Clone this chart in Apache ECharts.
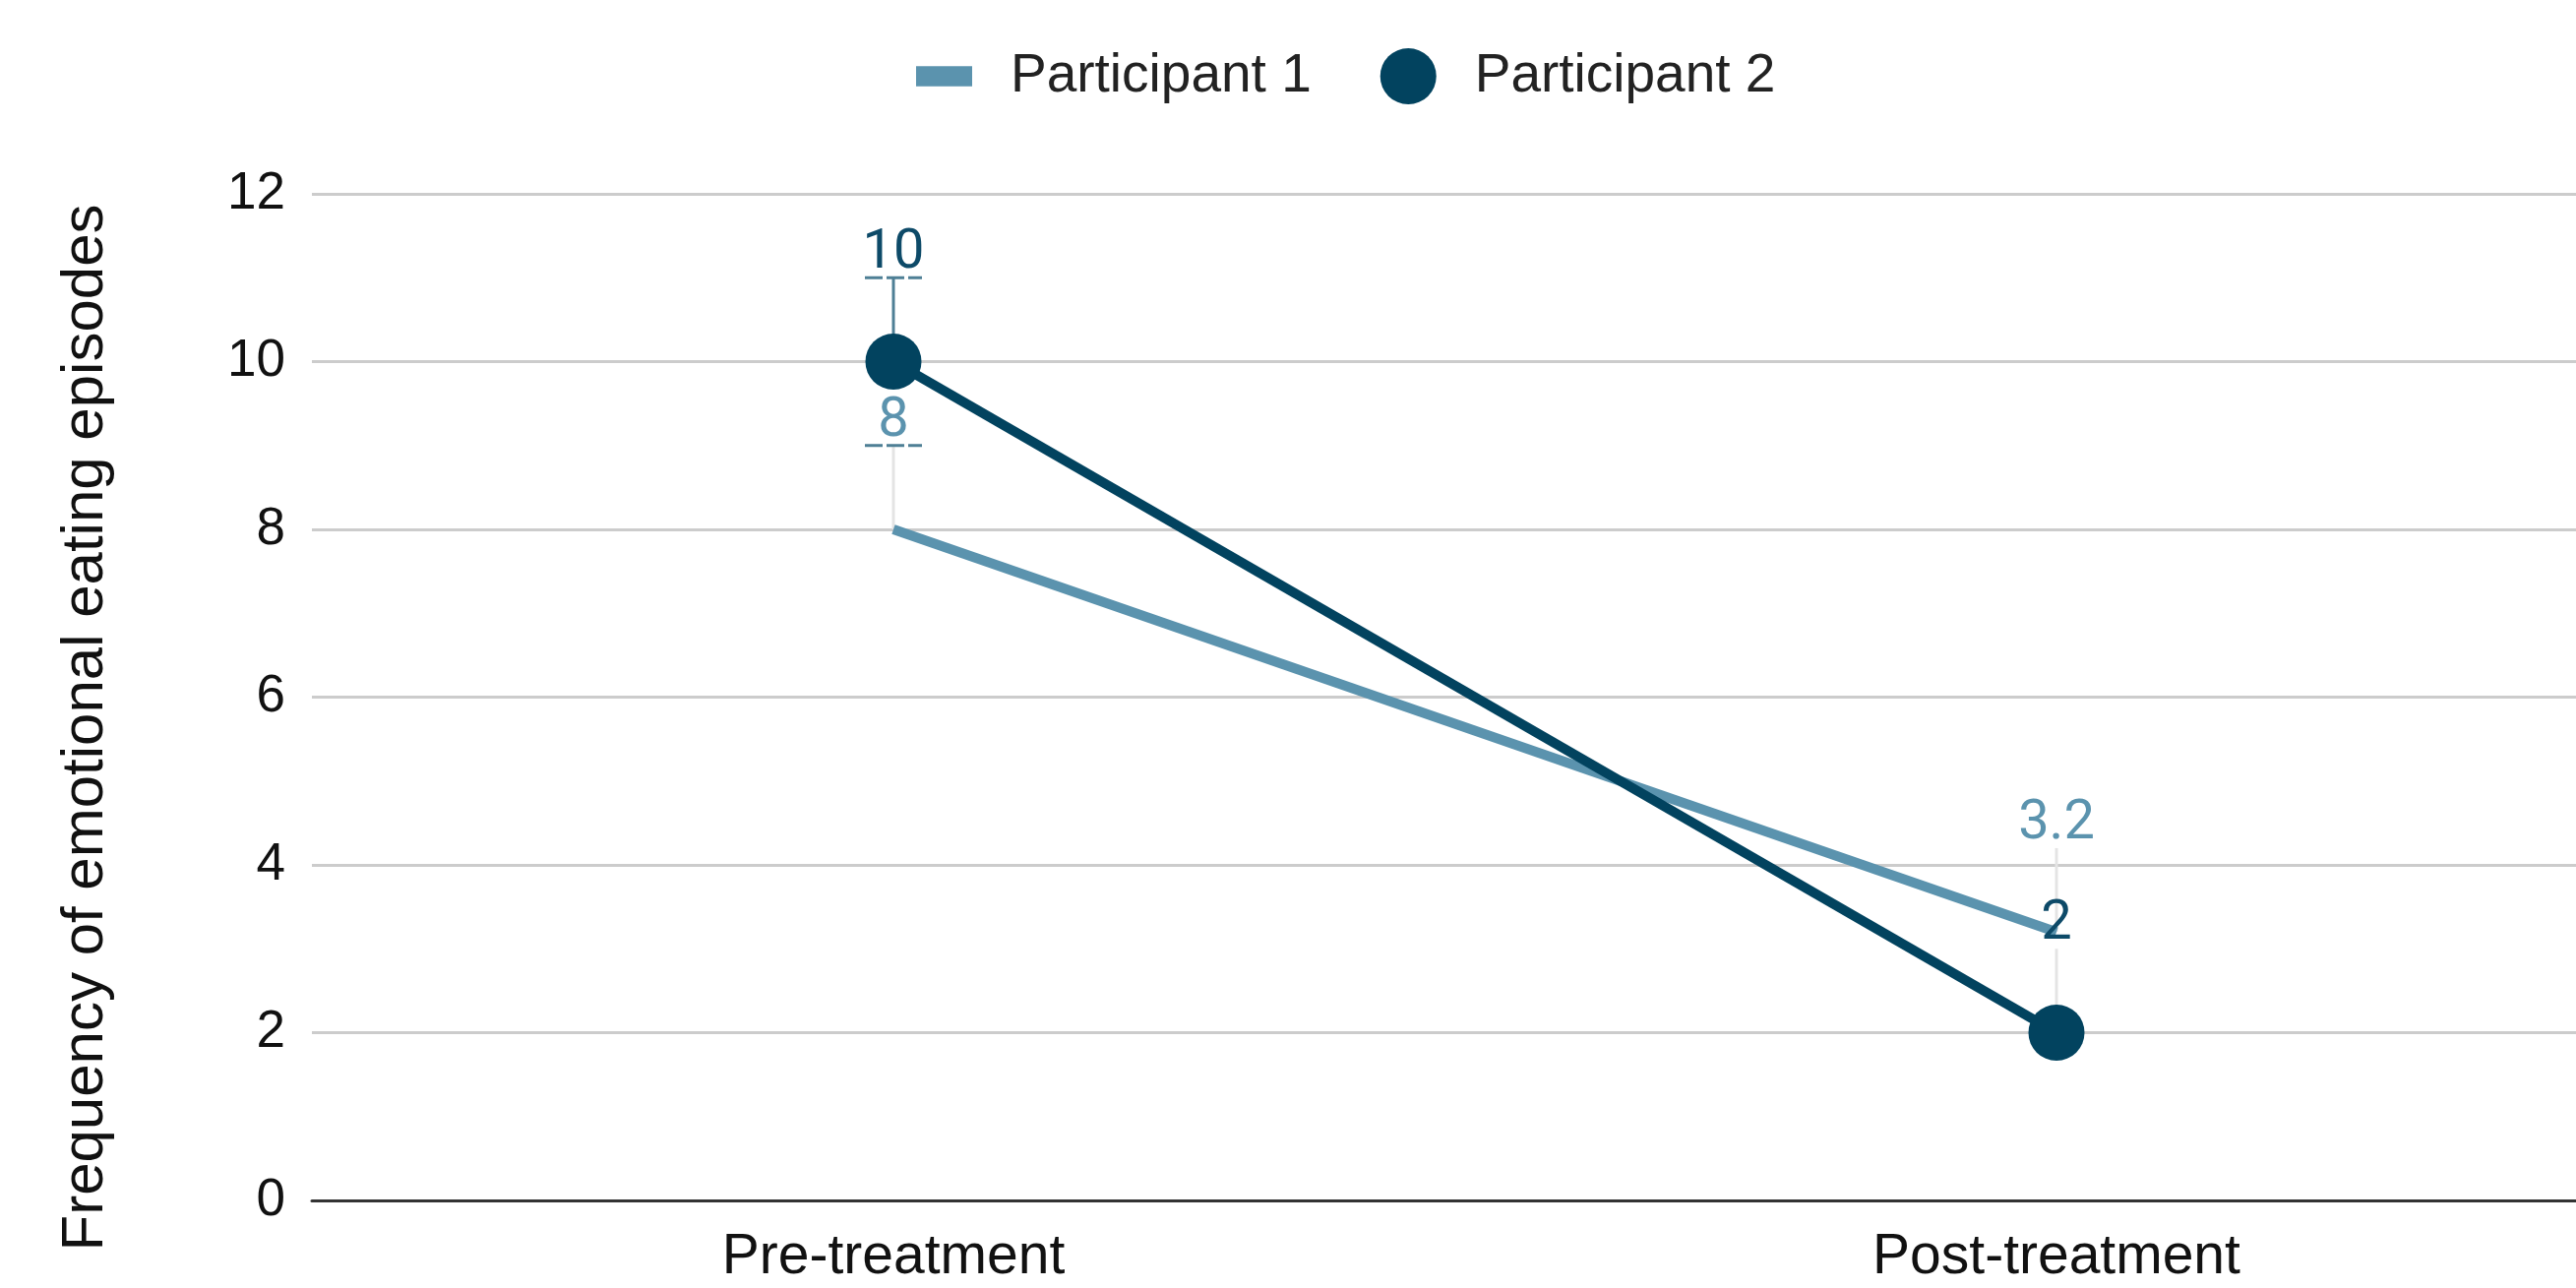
<!DOCTYPE html>
<html>
<head>
<meta charset="utf-8">
<script src="https://cdn.jsdelivr.net/npm/echarts@6/dist/echarts.min.js"></script>
<style>
html,body{margin:0;padding:0;background:#fff;}
#chart{width:2618px;height:1309px;}
</style>
</head>
<body>
<div id="chart"></div>
<script>
const categories = ['Pre-treatment', 'Post-treatment'];
const seriesNames = ['Participant 1', 'Participant 2'];
const participant1 = [8, 3.2];
const participant2 = [10, 2];
const errorUp1 = [1, 1];
const errorUp2 = [1, 1];
const yTicks = [0, 2, 4, 6, 8, 10, 12];

const C1 = '#5b93ae';
const C2 = '#02435f';
const FONT = '"Liberation Sans", Arial, sans-serif';

// error bar rows: [categoryIndex, low, high, seriesIndex]
const errRows = [];
participant1.forEach((v, i) => errRows.push([i, v, v + errorUp1[i], 0]));
participant2.forEach((v, i) => errRows.push([i, v, v + errorUp2[i], 1]));
// label rows: [categoryIndex, top, value, seriesIndex]
const labelRows = errRows.map(r => [r[0], r[2], r[1], r[3]]);

const chart = echarts.init(document.getElementById('chart'), null, {renderer: 'canvas'});

chart.setOption({
  backgroundColor: '#ffffff',
  animation: false,
  legend: {
    left: 926,
    top: 44,
    itemWidth: 57,
    itemHeight: 57,
    itemGap: 70,
    textStyle: {fontFamily: FONT, fontSize: 55, color: '#222222', padding: [0, 0, 0, 34]},
    data: [
      {name: seriesNames[0], icon: 'path://M0,0h55v20h-55z'},
      {name: seriesNames[1], icon: 'circle'}
    ]
  },
  grid: {left: 317, width: 2364, top: 197, bottom: 89, containLabel: false, outerBoundsMode: 'none'},
  xAxis: {
    type: 'category',
    data: categories,
    boundaryGap: true,
    axisTick: {show: false},
    axisLine: {lineStyle: {color: '#333333', width: 3}},
    axisLabel: {fontFamily: FONT, fontSize: 57, color: '#111111', margin: 30}
  },
  yAxis: {
    type: 'value',
    min: yTicks[0],
    max: yTicks[yTicks.length - 1],
    interval: 2,
    name: 'Frequency of emotional eating episodes',
    nameLocation: 'middle',
    nameGap: 200,
    nameTextStyle: {fontFamily: FONT, fontSize: 60, color: '#111111', padding: [0, 62, 0, 0]},
    axisLine: {show: false},
    axisTick: {show: false},
    splitLine: {lineStyle: {color: '#cccccc', width: 3}},
    axisLabel: {fontFamily: FONT, fontSize: 53, color: '#111111', margin: 27}
  },
  series: [
    {
      type: 'custom',
      name: 'errorbars',
      z: 1,
      silent: true,
      data: errRows,
      renderItem: function (params, api) {
        const ci = api.value(0);
        const lo = api.coord([ci, api.value(1)]);
        const hi = api.coord([ci, api.value(2)]);
        const si = api.value(3);
        const lineColor = (si === 1 && ci === 0) ? '#4e7f95' : '#e4e4e4';
        const children = [{
          type: 'line',
          shape: {x1: lo[0], y1: lo[1], x2: hi[0], y2: hi[1]},
          style: {stroke: lineColor, lineWidth: 3}
        }];
        if (ci === 0) {
          children.push({
            type: 'line',
            shape: {x1: hi[0] - 29, y1: hi[1], x2: hi[0] + 29, y2: hi[1]},
            style: {stroke: '#4e7f95', lineWidth: 3, lineDash: [18, 4]}
          });
        }
        return {type: 'group', children: children};
      }
    },
    {
      type: 'line',
      name: seriesNames[0],
      data: participant1,
      z: 2,
      symbol: 'none',
      color: C1,
      lineStyle: {color: C1, width: 10}
    },
    {
      type: 'line',
      name: seriesNames[1],
      data: participant2,
      z: 3,
      symbol: 'circle',
      symbolSize: 57,
      color: C2,
      itemStyle: {color: C2},
      lineStyle: {color: C2, width: 10}
    },
    {
      type: 'custom',
      name: 'labels',
      z: 10,
      silent: true,
      data: labelRows,
      renderItem: function (params, api) {
        const ci = api.value(0);
        const top = api.coord([ci, api.value(1)]);
        const si = api.value(3);
        const val = api.value(2);
        return {
          type: 'text',
          x: top[0],
          y: top[1] + 4,
          style: {
            text: String(val),
            fill: si === 0 ? C1 : '#0d4a68',
            font: '56px Roboto, "Liberation Sans", sans-serif',
            textAlign: 'center',
            textVerticalAlign: 'bottom'
          }
        };
      }
    }
  ]
});
</script>
</body>
</html>
